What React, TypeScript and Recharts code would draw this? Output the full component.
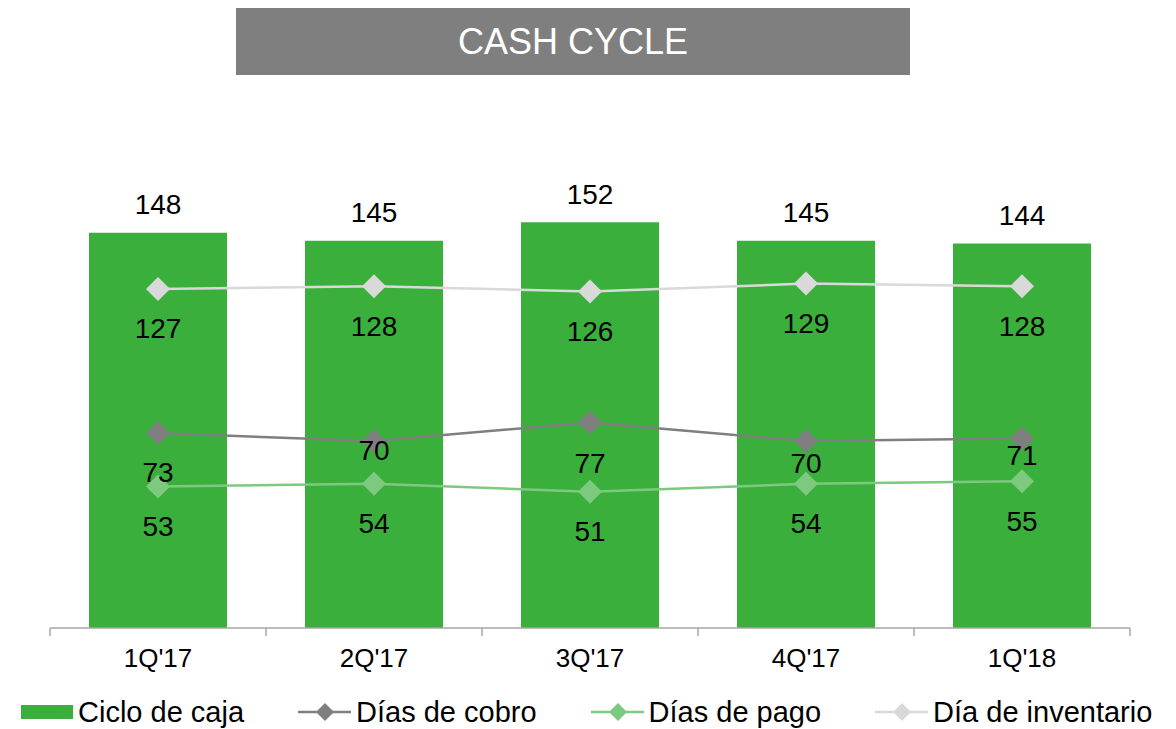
import { Bar, ComposedChart, LabelList, Legend, Line, XAxis, YAxis } from 'recharts'

const quarters = ["1Q'17", "2Q'17", "3Q'17", "4Q'17", "1Q'18"]
const cicloCaja = [148, 145, 152, 145, 144]
const diasCobro = [73, 70, 77, 70, 71]
const diasPago = [53, 54, 51, 54, 55]
const diaInventario = [127, 128, 126, 129, 128]

// vertical offsets of the "Días de cobro" labels, set by hand in the original
const cobroLabelDy = [39, 9, 41, 22, 17]

const W = 1176
const H = 729
const M = { top: 94, right: 46, left: 50, bottom: 0 }
const BAND = (W - M.left - M.right) / quarters.length
const FONT = '"Liberation Sans", Arial, sans-serif'

const C_BAR = '#3BAF3C'
const C_COBRO = '#7F7F7F'
const C_PAGO = '#7DC97F'
const C_INV = '#D9D9D9'
const C_AXIS = '#A6A6A6'

const data = quarters.map((q, i) => ({
  q,
  ciclo: cicloCaja[i],
  cobro: diasCobro[i],
  pago: diasPago[i],
  inventario: diaInventario[i],
}))

const diamond = (color: string) => (p: any) => {
  const { cx, cy, index } = p
  if (cx == null || cy == null) return <g key={index} />
  const r = 12
  return (
    <path key={index} d={`M${cx},${cy - r}L${cx + r},${cy}L${cx},${cy + r}L${cx - r},${cy}Z`} fill={color} />
  )
}

const lineLabel = (dys: number[] | number) => (p: any) => {
  const { x, y, value, index } = p
  const dy = Array.isArray(dys) ? dys[index] : dys
  return (
    <text key={index} x={x} y={y + dy} textAnchor="middle" dominantBaseline="central"
          fontSize={28} fontFamily={FONT} fill="#000">{value}</text>
  )
}

const barLabel = (p: any) => {
  const { x, y, width, value, index } = p
  return (
    <text key={index} x={x + width / 2} y={y - 28} textAnchor="middle" dominantBaseline="central"
          fontSize={28} fontFamily={FONT} fill="#000">{value}</text>
  )
}

const TICK_SIZE = 8
const TICK_MARGIN = 13

function QuarterTick(p: any) {
  const { x, y, payload, index, visibleTicksCount } = p
  const axisY = y - TICK_SIZE - TICK_MARGIN
  const last = index === (visibleTicksCount ?? quarters.length) - 1
  return (
    <g>
      <line x1={x - BAND / 2} x2={x - BAND / 2} y1={axisY} y2={axisY + TICK_SIZE} stroke={C_AXIS} strokeWidth={1.5} />
      {last && <line x1={x + BAND / 2} x2={x + BAND / 2} y1={axisY} y2={axisY + TICK_SIZE} stroke={C_AXIS} strokeWidth={1.5} />}
      <text x={x} y={y} dy="0.71em" textAnchor="middle" fontSize={26} fontFamily={FONT} fill="#000">{payload.value}</text>
    </g>
  )
}

const legendItems = [
  { label: 'Ciclo de caja', color: C_BAR, kind: 'bar' },
  { label: 'Días de cobro', color: C_COBRO, kind: 'line' },
  { label: 'Días de pago', color: C_PAGO, kind: 'line' },
  { label: 'Día de inventario', color: C_INV, kind: 'line' },
]

function CustomLegend() {
  return (
    <div style={{ display: 'flex', alignItems: 'center', paddingLeft: 21, fontFamily: FONT, fontSize: 29, color: '#000' }}>
      {legendItems.map((it) => (
        <div key={it.label} style={{ display: 'flex', alignItems: 'center', marginRight: 54, whiteSpace: 'nowrap' }}>
          {it.kind === 'bar' ? (
            <svg width={52} height={14} style={{ marginRight: 5 }}>
              <rect width={52} height={14} fill={it.color} />
            </svg>
          ) : (
            <svg width={53} height={24} style={{ marginRight: 5 }}>
              <line x1={0} x2={53} y1={12} y2={12} stroke={it.color} strokeWidth={2.5} />
              <path d="M27,3L36,12L27,21L18,12Z" fill={it.color} />
            </svg>
          )}
          <span style={{ lineHeight: '34px' }}>{it.label}</span>
        </div>
      ))}
    </div>
  )
}

export default function App() {
  return (
    <div style={{ position: 'absolute', left: 0, top: 0, width: W, height: H, background: '#fff' }}>
      <div style={{
        position: 'absolute', left: 236, top: 8, width: 674, height: 67, background: '#7F7F7F',
        color: '#fff', fontFamily: FONT, fontSize: 36, display: 'flex', alignItems: 'center',
        justifyContent: 'center', zIndex: 2,
      }}>
        CASH CYCLE
      </div>
      <ComposedChart width={W} height={H} data={data} margin={M}>
        <XAxis dataKey="q" interval={0} tickLine={false} axisLine={{ stroke: C_AXIS, strokeWidth: 1.5 }}
               tickSize={TICK_SIZE} tickMargin={TICK_MARGIN} height={101} tick={<QuarterTick />} />
        <YAxis hide domain={[0, 200]} />
        <Legend verticalAlign="middle" align="center" content={<CustomLegend />}
                wrapperStyle={{ top: 695, left: 0, width: W }} />
        <Bar dataKey="ciclo" name="Ciclo de caja" fill={C_BAR} barSize={138} isAnimationActive={false}>
          <LabelList dataKey="ciclo" content={barLabel} />
        </Bar>
        <Line dataKey="inventario" name="Día de inventario" stroke={C_INV} strokeWidth={2.5}
              dot={diamond(C_INV)} activeDot={false} isAnimationActive={false}>
          <LabelList dataKey="inventario" content={lineLabel(40)} />
        </Line>
        <Line dataKey="cobro" name="Días de cobro" stroke={C_COBRO} strokeWidth={2.5}
              dot={diamond(C_COBRO)} activeDot={false} isAnimationActive={false}>
          <LabelList dataKey="cobro" content={lineLabel(cobroLabelDy)} />
        </Line>
        <Line dataKey="pago" name="Días de pago" stroke={C_PAGO} strokeWidth={2.5}
              dot={diamond(C_PAGO)} activeDot={false} isAnimationActive={false}>
          <LabelList dataKey="pago" content={lineLabel(40)} />
        </Line>
      </ComposedChart>
    </div>
  )
}
